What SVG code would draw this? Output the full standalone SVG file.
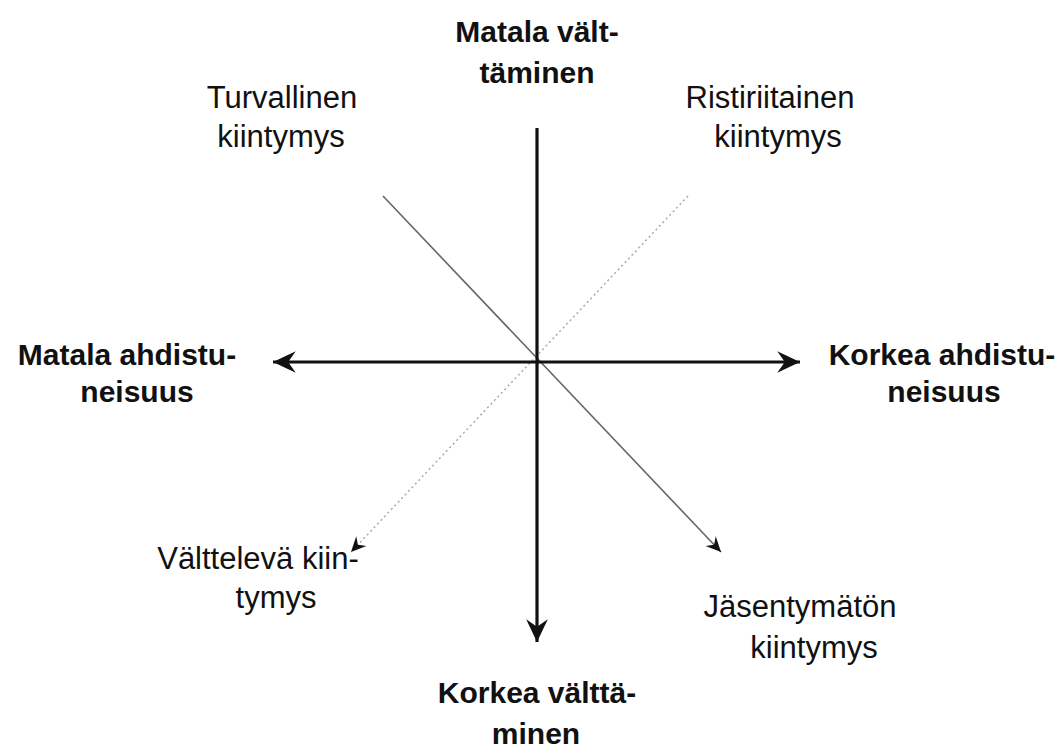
<svg xmlns="http://www.w3.org/2000/svg" width="1062" height="753" viewBox="0 0 1062 753">
<style>
.t{font-family:"Liberation Sans",Arial,sans-serif;font-size:31px;fill:#111;text-anchor:middle}
.b{font-weight:bold;font-size:30px}
.ax{stroke:#111;stroke-width:3.2;fill:none}
</style>
<defs>
<marker id="big" markerUnits="userSpaceOnUse" markerWidth="26" markerHeight="24" viewBox="-22 -11 24 22" refX="0" refY="0" orient="auto">
<path d="M0,0 L-21,-10 L-14,0 L-21,10 Z" fill="#111"/>
</marker>
<marker id="small" markerUnits="userSpaceOnUse" markerWidth="18" markerHeight="18" viewBox="-16 -9 18 18" refX="0" refY="0" orient="auto">
<path d="M0,0 L-15,-7 L-10,0 L-15,7 Z" fill="#111"/>
</marker>
</defs>
<g id="connectors">
<line x1="383" y1="196" x2="721" y2="552" stroke="#666" stroke-width="1.6" marker-end="url(#small)"/>
<line x1="688" y1="196" x2="351" y2="552" stroke="#aaa" stroke-width="1.5" stroke-dasharray="2 3" marker-end="url(#small)"/>
<line class="ax" x1="537" y1="128" x2="537" y2="642" marker-end="url(#big)"/>
<line class="ax" x1="537" y1="362" x2="273" y2="362" marker-end="url(#big)"/>
<line class="ax" x1="537" y1="362" x2="800" y2="362" marker-end="url(#big)"/>
</g>
<g id="top"><text class="t b" x="537" y="42">Matala vält-</text><text class="t b" x="537" y="83">täminen</text></g>
<g id="bottom"><text class="t b" x="537" y="703">Korkea välttä-</text><text class="t b" x="536" y="744">minen</text></g>
<g id="left"><text class="t b" x="127" y="365">Matala ahdistu-</text><text class="t b" x="137" y="402">neisuus</text></g>
<g id="right"><text class="t b" x="942" y="365">Korkea ahdistu-</text><text class="t b" x="944" y="402">neisuus</text></g>
<g id="secure"><text class="t" x="282" y="108">Turvallinen</text><text class="t" x="281" y="147">kiintymys</text></g>
<g id="ambivalent"><text class="t" x="770" y="108">Ristiriitainen</text><text class="t" x="778" y="147">kiintymys</text></g>
<g id="avoidant"><text class="t" x="258" y="569">Välttelevä kiin-</text><text class="t" x="276" y="608">tymys</text></g>
<g id="disorganized"><text class="t" x="800" y="617">Jäsentymätön</text><text class="t" x="814" y="658">kiintymys</text></g>
</svg>
